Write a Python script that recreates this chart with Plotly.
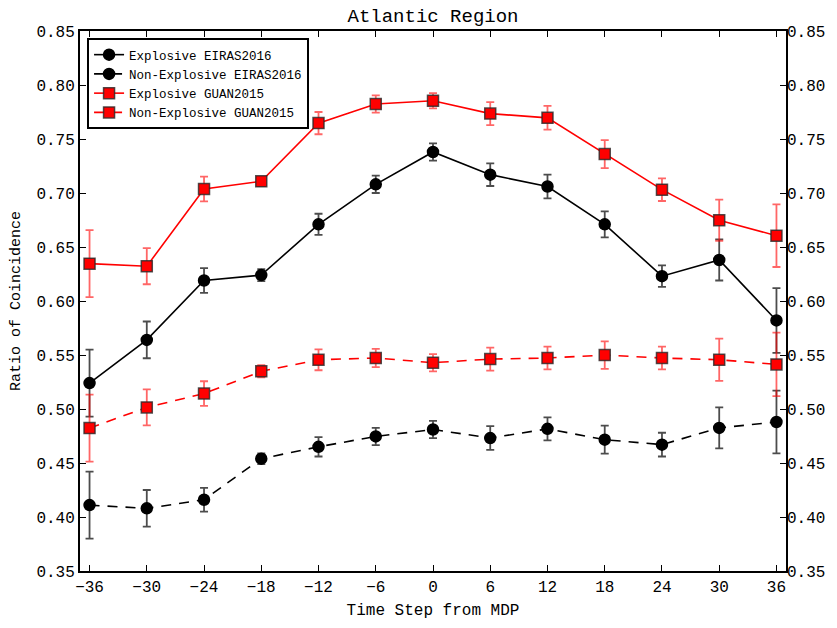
import plotly.graph_objects as go

steps = [-36, -30, -24, -18, -12, -6, 0, 6, 12, 18, 24, 30, 36]

exp_eiras = [0.524, 0.564, 0.619, 0.624, 0.671, 0.708, 0.738, 0.717, 0.706, 0.671, 0.623, 0.638, 0.582]
exp_eiras_err = [0.031, 0.017, 0.0115, 0.0056, 0.0098, 0.008, 0.008, 0.0105, 0.011, 0.012, 0.010, 0.019, 0.030]

nonexp_eiras = [0.411, 0.408, 0.416, 0.454, 0.465, 0.4746, 0.481, 0.4731, 0.4816, 0.4716, 0.467, 0.4825, 0.488]
nonexp_eiras_err = [0.031, 0.017, 0.011, 0.005, 0.009, 0.008, 0.008, 0.011, 0.0107, 0.013, 0.011, 0.019, 0.029]

exp_guan = [0.6346, 0.6322, 0.7037, 0.7108, 0.7647, 0.7824, 0.7854, 0.7735, 0.7696, 0.736, 0.7031, 0.6748, 0.6605]
exp_guan_err = [0.031, 0.0167, 0.0115, 0.004, 0.0103, 0.008, 0.007, 0.0107, 0.011, 0.013, 0.0105, 0.019, 0.029]

nonexp_guan = [0.4823, 0.5015, 0.5143, 0.5349, 0.5456, 0.5472, 0.5429, 0.5462, 0.5472, 0.5499, 0.5472, 0.5456, 0.5413]
nonexp_guan_err = [0.031, 0.0166, 0.0114, 0.0056, 0.0097, 0.0084, 0.008, 0.0107, 0.0105, 0.0128, 0.0105, 0.0195, 0.0294]

x_ticks = [-36, -30, -24, -18, -12, -6, 0, 6, 12, 18, 24, 30, 36]
y_ticks = [0.35, 0.40, 0.45, 0.50, 0.55, 0.60, 0.65, 0.70, 0.75, 0.80, 0.85]

MONO = "Liberation Mono, DejaVu Sans Mono, monospace"

fig = go.Figure()


def add_series(name, y, err, color, symbol, dash, edge, errcolor):
    fig.add_trace(go.Scatter(
        x=steps, y=y, name=name, mode="lines+markers",
        line=dict(color=color, width=1.6, dash=dash),
        marker=dict(symbol=symbol, size=11, color=color,
                    line=dict(color=edge, width=1.5)),
        error_y=dict(type="data", array=err, visible=True,
                     color=errcolor, thickness=1.8, width=4),
    ))


add_series("Explosive EIRAS2016", exp_eiras, exp_eiras_err, "black", "circle",
           "solid", "black", "rgba(0,0,0,0.7)")
add_series("Non-Explosive EIRAS2016", nonexp_eiras, nonexp_eiras_err, "black", "circle",
           "10px,8px", "black", "rgba(0,0,0,0.7)")
add_series("Explosive GUAN2015", exp_guan, exp_guan_err, "red", "square",
           "solid", "rgba(40,40,40,0.8)", "rgba(255,0,0,0.6)")
add_series("Non-Explosive GUAN2015", nonexp_guan, nonexp_guan_err, "red", "square",
           "10px,8px", "rgba(40,40,40,0.8)", "rgba(255,0,0,0.6)")

# invisible trace to carry the right-hand y axis
fig.add_trace(go.Scatter(x=[steps[0]], y=[y_ticks[0]], yaxis="y2", mode="markers",
                         marker=dict(opacity=0), showlegend=False, hoverinfo="skip"))

fig.update_layout(
    width=837, height=628,
    margin=dict(l=80, r=48, t=31, b=50),
    paper_bgcolor="white", plot_bgcolor="white",
    font=dict(family=MONO, color="black", size=16),
    title=dict(text="Atlantic Region", x=0.5, xref="paper", xanchor="center",
               y=1 - 15 / 628, yref="container", yanchor="middle",
               font=dict(family=MONO, size=19, color="black")),
    xaxis=dict(range=[-37, 37], tickvals=x_ticks, ticktext=[str(v).replace("-", "\u2212") for v in x_ticks],
               ticks="inside", ticklen=6, tickcolor="black", tickwidth=1,
               showline=True, linecolor="black", linewidth=2, mirror="ticks",
               showgrid=False, zeroline=False,
               title=dict(text="Time Step from MDP", font=dict(size=16), standoff=8),
               tickfont=dict(size=16)),
    yaxis=dict(range=[0.35, 0.85], tickvals=y_ticks, ticktext=[f"{v:.2f}" for v in y_ticks],
               ticks="inside", ticklen=6, tickcolor="black", tickwidth=1,
               showline=True, linecolor="black", linewidth=2, mirror=True,
               showgrid=False, zeroline=False,
               title=dict(text="Ratio of Coincidence", font=dict(size=15), standoff=12),
               tickfont=dict(size=16)),
    yaxis2=dict(range=[0.35, 0.85], tickvals=y_ticks, ticktext=[f"{v:.2f}" for v in y_ticks],
                overlaying="y", side="right", ticks="inside", ticklen=6,
                tickcolor="black", showgrid=False, zeroline=False, showline=False,
                tickfont=dict(size=16)),
    legend=dict(x=0.01, y=0.987, xanchor="left", yanchor="top",
                bgcolor="white", bordercolor="black", borderwidth=2,
                font=dict(family=MONO, size=12.5), tracegroupgap=0),
    showlegend=True,
)

fig.write_html("out.html", config={"displayModeBar": False},
               post_script="document.body.style.margin='0';document.body.style.padding='0';")
